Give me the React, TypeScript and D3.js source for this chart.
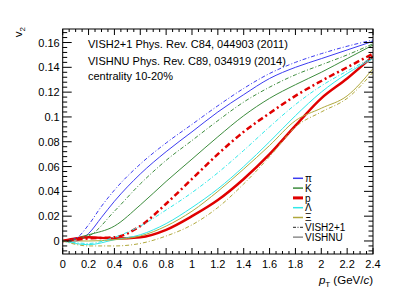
import React from "react";
import * as d3 from "d3";

// pT grid shared by the curves
const ptPion = [0, 0.1, 0.2, 0.3, 0.4, 0.6, 0.8, 1.0, 1.2, 1.4, 1.6, 1.8, 2.0, 2.2, 2.4];
const pt = [0, 0.2, 0.4, 0.6, 0.8, 1.0, 1.2, 1.4, 1.6, 1.8, 2.0, 2.2, 2.4];

// VISH2+1 (dash-dot)
const pionVish = [0, 0.002, 0.013, 0.028, 0.041, 0.062, 0.079, 0.094, 0.109, 0.123, 0.135, 0.144, 0.151, 0.157, 0.162];
const kaonVish = [0, 0.004, 0.024, 0.046, 0.065, 0.081, 0.097, 0.112, 0.124, 0.134, 0.142, 0.15, 0.159];
const protonVish = [0, 0.002, 0.003, 0.012, 0.03, 0.05, 0.07, 0.088, 0.103, 0.117, 0.129, 0.14, 0.151];
const lambdaVish = [0, -0.002, 0.003, 0.012, 0.025, 0.039, 0.055, 0.073, 0.092, 0.11, 0.125, 0.137, 0.148];
const xiVish = [0, -0.004, -0.004, -0.002, 0.004, 0.013, 0.027, 0.046, 0.068, 0.092, 0.104, 0.115, 0.136];

// VISHNU (solid)
const pionVishnu = [0, 0, 0.006, 0.019, 0.032, 0.054, 0.072, 0.088, 0.104, 0.118, 0.131, 0.14, 0.147, 0.154, 0.161];
const kaonVishnu = [0, 0.005, 0.012, 0.029, 0.048, 0.066, 0.084, 0.101, 0.115, 0.126, 0.136, 0.147, 0.158];
const protonVishnu = [0, 0.003, 0.002, 0.003, 0.009, 0.02, 0.033, 0.05, 0.07, 0.093, 0.115, 0.131, 0.149];
const lambdaVishnu = [0, -0.003, 0.001, 0.005, 0.014, 0.027, 0.042, 0.06, 0.08, 0.101, 0.12, 0.135, 0.147];
const xiVishnu = [0, 0, 0.001, 0.004, 0.012, 0.024, 0.04, 0.058, 0.077, 0.097, 0.107, 0.117, 0.139];

const particles = ["\u03c0", "K", "p", "\u039b", "\u039e"];
const colors = ["#3c3cf0", "#3d8c3d", "#e00000", "#30e8e8", "#b0a83c"];
const widths = [1, 1, 2.5, 1, 1];
const vishSets = [pionVish, kaonVish, protonVish, lambdaVish, xiVish];
const vishnuSets = [pionVishnu, kaonVishnu, protonVishnu, lambdaVishnu, xiVishnu];

const xTicks = [0, 0.2, 0.4, 0.6, 0.8, 1, 1.2, 1.4, 1.6, 1.8, 2, 2.2, 2.4];
const yTicks = [0, 0.02, 0.04, 0.06, 0.08, 0.1, 0.12, 0.14, 0.16];

const infoLines = ["VISH2+1 Phys. Rev. C84, 044903 (2011)", "VISHNU Phys. Rev. C89, 034919 (2014)", "centrality 10-20%"];

const W = 415;
const H = 299;
const left = 62.7;
const right = 373;
const top = 29;
const bottom = 254;

const App = () => {
  const x = d3.scaleLinear().domain([0, 2.4]).range([left, right]);
  const y = d3.scaleLinear().domain([-0.0105, 0.1709]).range([bottom, top]);

  const line = d3
    .line<[number, number]>()
    .x((d) => x(d[0]))
    .y((d) => y(d[1]))
    .curve(d3.curveMonotoneX);

  const curve = (i: number, vals: number[]) => {
    const xs = i === 0 ? ptPion : pt;
    return line(xs.map((p, k) => [p, vals[k]] as [number, number])) as string;
  };

  const dashFor = (i: number) => (widths[i] > 1 ? "6,3,2,3" : "4,2,1,2");

  const xMinor = d3.range(0, 2.4001, 0.05);
  const yMinor = d3.range(-0.008, 0.1701, 0.004);
  const font = "'Liberation Sans', Arial, sans-serif";

  const legendRows = [
    ...particles.map((p, i) => ({ label: p, color: colors[i], width: widths[i] + 0.5, dash: "none" })),
    { label: "VISH2+1", color: "#222", width: 1, dash: "3,1.5,1,1.5" },
    { label: "VISHNU", color: "#555", width: 1, dash: "none" },
  ];

  return (
    <svg width={W} height={H} style={{ position: "absolute", left: 0, top: 0 }} fontFamily={font}>
      <rect width={W} height={H} fill="white" />
      <defs>
        <clipPath id="plotArea">
          <rect x={left} y={top} width={right - left} height={bottom - top} />
        </clipPath>
      </defs>

      <g clipPath="url(#plotArea)" fill="none">
        {vishnuSets.map((vals, i) => (
          <path key={"s" + i} d={curve(i, vals)} stroke={colors[i]} strokeWidth={widths[i]} />
        ))}
        {vishSets.map((vals, i) => (
          <path key={"d" + i} d={curve(i, vals)} stroke={colors[i]} strokeWidth={widths[i]} strokeDasharray={dashFor(i)} />
        ))}
      </g>

      {/* frame and ticks */}
      <rect x={left} y={top} width={right - left} height={bottom - top} fill="none" stroke="black" strokeWidth={1} />
      <g stroke="black" strokeWidth={1}>
        {xMinor.map((t, i) => {
          const major = Math.abs(t / 0.2 - Math.round(t / 0.2)) < 1e-6;
          const len = major ? 6 : 3;
          return (
            <g key={"xt" + i}>
              <line x1={x(t)} x2={x(t)} y1={bottom} y2={bottom - len} />
              <line x1={x(t)} x2={x(t)} y1={top} y2={top + len} />
            </g>
          );
        })}
        {yMinor.map((t, i) => {
          const major = Math.abs(t / 0.02 - Math.round(t / 0.02)) < 1e-6;
          const len = major ? 9 : 4.5;
          return (
            <g key={"yt" + i}>
              <line x1={left} x2={left + len} y1={y(t)} y2={y(t)} />
              <line x1={right} x2={right - len} y1={y(t)} y2={y(t)} />
            </g>
          );
        })}
      </g>

      <g fontSize={11} fill="black">
        {xTicks.map((t) => (
          <text key={"xl" + t} x={x(t)} y={268} textAnchor="middle">
            {d3.format("~g")(t)}
          </text>
        ))}
        {yTicks.map((t) => (
          <text key={"yl" + t} x={left - 3} y={y(t) + 4} textAnchor="end">
            {d3.format("~g")(t)}
          </text>
        ))}
      </g>

      {/* axis titles */}
      <text x={373} y={284} fontSize={11.5} textAnchor="end">
        <tspan fontStyle="italic">p</tspan>
        <tspan fontSize={8} dy={3}>T</tspan>
        <tspan dy={-3}> (GeV/</tspan>
        <tspan fontStyle="italic">c</tspan>
        <tspan>)</tspan>
      </text>
      <text transform="translate(22,27) rotate(-90)" fontSize={11.5} textAnchor="end">
        <tspan>v</tspan>
        <tspan fontSize={8} dy={3}>2</tspan>
      </text>

      {/* info text */}
      <g fontSize={11}>
        {infoLines.map((s, i) => (
          <text key={s} x={88} y={[47.5, 65, 79.5][i]}>
            {s}
          </text>
        ))}
      </g>

      {/* legend */}
      <g fontSize={10}>
        {legendRows.map((r, i) => {
          const ly = 178.3 + i * 9.8;
          return (
            <g key={r.label}>
              <line x1={293} x2={303} y1={ly} y2={ly} stroke={r.color} strokeWidth={r.width} strokeDasharray={r.dash} />
              <text x={305} y={ly + 3.6}>
                {r.label}
              </text>
            </g>
          );
        })}
      </g>
    </svg>
  );
};

export default App;
